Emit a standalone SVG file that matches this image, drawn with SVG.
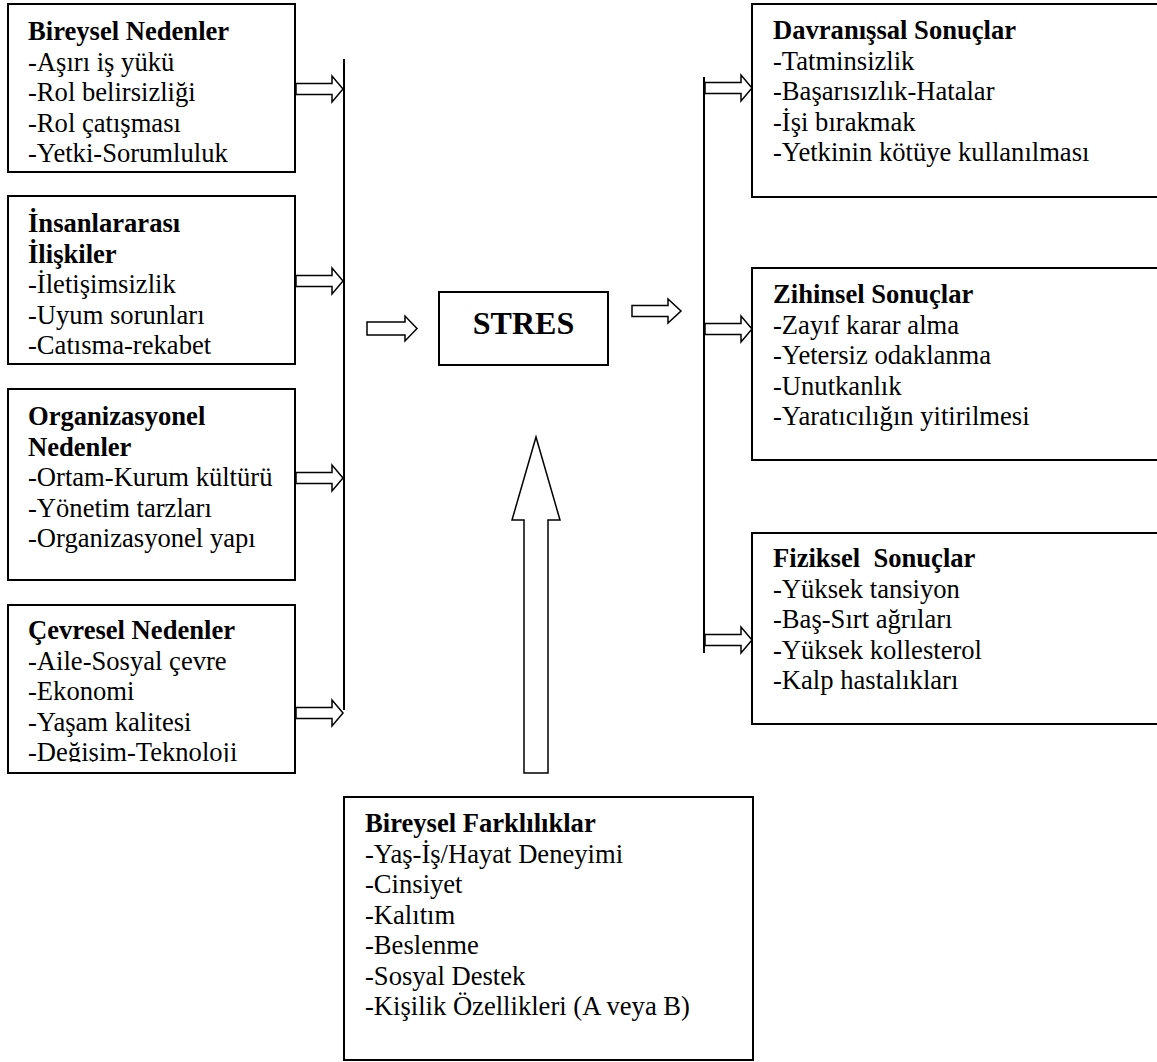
<svg xmlns="http://www.w3.org/2000/svg" width="1157" height="1062" viewBox="0 0 1157 1062">
<style>
  .box{fill:#fff;stroke:#000;stroke-width:2}
  .t{font-family:"Liberation Serif","Times New Roman",serif;font-size:26.6px;fill:#000;white-space:pre}
  .b{font-weight:bold}
  .ar{fill:#fff;stroke:#000;stroke-width:1.5;stroke-linejoin:miter}
  .ln{stroke:#000;stroke-width:2;fill:none}
</style>
<defs>
  <clipPath id="c2"><rect x="0" y="190" width="300" height="164"/></clipPath>
  <clipPath id="c4"><rect x="0" y="600" width="300" height="162"/></clipPath>
</defs>
<rect width="1157" height="1062" fill="#fff"/>

<g id="connectors">
  <line class="ln" x1="344" y1="59" x2="344" y2="710"/>
  <line class="ln" x1="704" y1="77" x2="704" y2="653"/>
  <path class="ar" d="M296,83.5 H332 V76 L343,89 L332,102 V94.5 H296 Z"/>
  <path class="ar" d="M296,275.5 H332 V268 L343,281 L332,294 V286.5 H296 Z"/>
  <path class="ar" d="M296,472.5 H332 V465 L343,478 L332,491 V483.5 H296 Z"/>
  <path class="ar" d="M296,707.5 H332 V700 L343,713 L332,726 V718.5 H296 Z"/>
  <path class="ar" d="M705,82.5 H741 V75 L752,88 L741,101 V93.5 H705 Z"/>
  <path class="ar" d="M705,323.5 H741 V316 L752,329 L741,342 V334.5 H705 Z"/>
  <path class="ar" d="M705,634.5 H741 V627 L752,640 L741,653 V645.5 H705 Z"/>
  <path class="ar" d="M367,322 H405 V316 L417,328.5 L405,341 V335 H367 Z"/>
  <path class="ar" d="M632,305.5 H668 V299 L681,311 L668,323 V316.5 H632 Z"/>
  <path class="ar" d="M524,773 V520 H512 L536,437 L560,520 H548 V773 Z"/>
</g>

<g id="bireysel-nedenler">
  <rect class="box" x="8" y="4" width="287" height="168"/>
  <text class="t b" x="28" y="40">Bireysel Nedenler</text>
  <text class="t" x="28" y="70.5">-Aşırı iş yükü</text>
  <text class="t" x="28" y="101">-Rol belirsizliği</text>
  <text class="t" x="28" y="131.5">-Rol çatışması</text>
  <text class="t" x="28" y="162">-Yetki-Sorumluluk</text>
</g>

<g id="insanlararasi">
  <rect class="box" x="8" y="196" width="287" height="168"/>
  <text class="t b" x="28" y="232">İnsanlararası</text>
  <text class="t b" x="28" y="262.5">İlişkiler</text>
  <text class="t" x="28" y="293">-İletişimsizlik</text>
  <text class="t" x="28" y="323.5">-Uyum sorunları</text>
  <text class="t" x="28" y="354" clip-path="url(#c2)">-Çatışma-rekabet</text>
</g>

<g id="organizasyonel">
  <rect class="box" x="8" y="389" width="287" height="191"/>
  <text class="t b" x="28" y="425">Organizasyonel</text>
  <text class="t b" x="28" y="455.5">Nedenler</text>
  <text class="t" x="28" y="486">-Ortam-Kurum kültürü</text>
  <text class="t" x="28" y="516.5">-Yönetim tarzları</text>
  <text class="t" x="28" y="547">-Organizasyonel yapı</text>
</g>

<g id="cevresel">
  <rect class="box" x="8" y="605" width="287" height="168"/>
  <text class="t b" x="28" y="639">Çevresel Nedenler</text>
  <text class="t" x="28" y="669.5">-Aile-Sosyal çevre</text>
  <text class="t" x="28" y="700">-Ekonomi</text>
  <text class="t" x="28" y="730.5">-Yaşam kalitesi</text>
  <text class="t" x="28" y="761" clip-path="url(#c4)">-Değişim-Teknoloji</text>
</g>

<g id="stres">
  <rect class="box" x="439" y="292" width="169" height="73"/>
  <text class="t b" x="523.5" y="334" text-anchor="middle" style="font-size:32px">STRES</text>
</g>

<g id="davranissal">
  <rect class="box" x="752" y="4" width="420" height="193"/>
  <text class="t b" x="773" y="39">Davranışsal Sonuçlar</text>
  <text class="t" x="773" y="69.5">-Tatminsizlik</text>
  <text class="t" x="773" y="100">-Başarısızlık-Hatalar</text>
  <text class="t" x="773" y="130.5">-İşi bırakmak</text>
  <text class="t" x="773" y="161">-Yetkinin kötüye kullanılması</text>
</g>

<g id="zihinsel">
  <rect class="box" x="752" y="268" width="420" height="192"/>
  <text class="t b" x="773" y="303">Zihinsel Sonuçlar</text>
  <text class="t" x="773" y="333.5">-Zayıf karar alma</text>
  <text class="t" x="773" y="364">-Yetersiz odaklanma</text>
  <text class="t" x="773" y="394.5">-Unutkanlık</text>
  <text class="t" x="773" y="425">-Yaratıcılığın yitirilmesi</text>
</g>

<g id="fiziksel">
  <rect class="box" x="752" y="533" width="420" height="191"/>
  <text class="t b" x="773" y="567">Fiziksel  Sonuçlar</text>
  <text class="t" x="773" y="597.5">-Yüksek tansiyon</text>
  <text class="t" x="773" y="628">-Baş-Sırt ağrıları</text>
  <text class="t" x="773" y="658.5">-Yüksek kollesterol</text>
  <text class="t" x="773" y="689">-Kalp hastalıkları</text>
</g>

<g id="bireysel-farkliliklar">
  <rect class="box" x="344" y="797" width="409" height="263"/>
  <text class="t b" x="365" y="832">Bireysel Farklılıklar</text>
  <text class="t" x="365" y="862.5">-Yaş-İş/Hayat Deneyimi</text>
  <text class="t" x="365" y="893">-Cinsiyet</text>
  <text class="t" x="365" y="923.5">-Kalıtım</text>
  <text class="t" x="365" y="954">-Beslenme</text>
  <text class="t" x="365" y="984.5">-Sosyal Destek</text>
  <text class="t" x="365" y="1015">-Kişilik Özellikleri (A veya B)</text>
</g>
</svg>
